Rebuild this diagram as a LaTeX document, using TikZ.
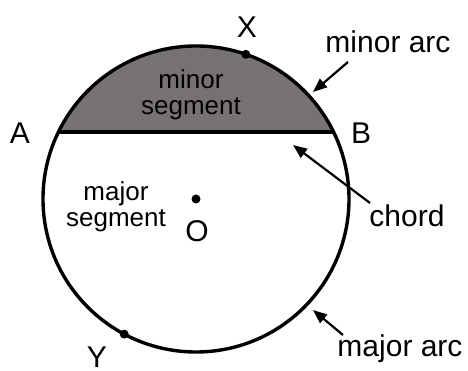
\documentclass[tikz,border=0pt]{standalone}
\usepackage{fontspec}
\setmainfont{Liberation Sans}
\usetikzlibrary{arrows.meta,calc}
\definecolor{segfill}{HTML}{777272}
\tikzset{
  lbl/.style={font=\fontsize{30}{30}\selectfont, inner sep=0pt},
  seglbl/.style={font=\fontsize{26}{26}\selectfont, inner sep=0pt, align=center},
  pointer/.style={line width=2.2pt, -{Triangle[length=14pt,width=11pt]}},
  rim/.style={line width=3.4pt},
  dotpt/.style={fill=black}
}
\begin{document}
\begin{tikzpicture}[x=1pt,y=1pt]
\useasboundingbox (0,0) rectangle (468,371);
\fill[white] (0,0) rectangle (468,371);
\coordinate (O) at (196,172);
\coordinate (A) at ($(O)+(154.03:153)$);
\coordinate (B) at ($(O)+(25.97:153)$);
\coordinate (X) at ($(O)+(71:153)$);
\coordinate (Y) at ($(O)+(242:153)$);
% minor segment
\fill[segfill] (A) arc[start angle=154.03, end angle=25.97, radius=153] -- cycle;
\draw[rim] (O) circle[radius=153];
\draw[rim] (A) -- (B);
% points
\fill[dotpt] (X) circle[radius=4.5];
\fill[dotpt] (Y) circle[radius=4.5];
\fill[dotpt] (O) circle[radius=4.5];
% labels
\node[lbl] (lX) at (247,344) {X};
\node[lbl] (lY) at (97,14) {Y};
\node[lbl] (lA) at (20,238) {A};
\node[lbl] (lB) at (361,238) {B};
\node[lbl] (lO) at (197,140) {O};
\node[lbl] (lminorarc) at (388,329) {minor arc};
\node[lbl] (lchord) at (407,155) {chord};
\node[lbl] (lmajorarc) at (400,22) {major arc};
\node[seglbl] (lminor) at (191,276) {minor\\segment};
\node[seglbl] (lmajor) at (116,164) {major\\segment};
% pointers
\coordinate (t1) at (348,309);
\coordinate (h1) at (313,279);
\coordinate (t2) at (370,168);
\coordinate (h2) at (293,226);
\coordinate (t3) at (343,36);
\coordinate (h3) at (313,61);
\draw[pointer] (t1) -- (h1);
\draw[pointer] (t2) -- (h2);
\draw[pointer] (t3) -- (h3);
\end{tikzpicture}
\end{document}
